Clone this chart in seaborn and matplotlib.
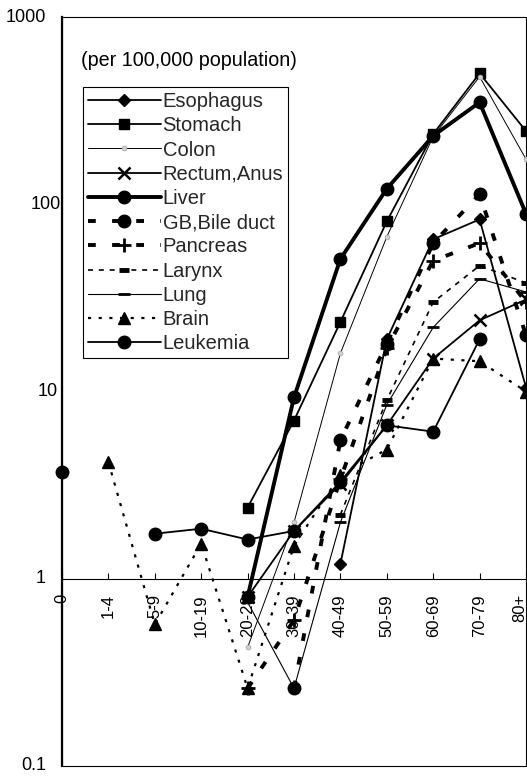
import numpy as np
import pandas as pd
import matplotlib
matplotlib.use("Agg")
import matplotlib.pyplot as plt
import seaborn as sns
from matplotlib.patches import Rectangle
import matplotlib.transforms as mtransforms

nan = np.nan

# ---- data (per 100,000 population) ----
categories = ['0', '1-4', '5-9', '10-19', '20-29', '30-39', '40-49',
              '50-59', '60-69', '70-79', '80+']
esophagus = [nan, nan, nan, nan, nan, nan, 1.2, 19, 65, 83, 10.5]
stomach = [nan, nan, nan, nan, 2.4, 7.0, 23.5, 81, 237, 500, 246]
colon = [nan, nan, nan, nan, 0.43, 2.0, 16, 67, 230, 480, 174]
rectum_anus = [nan, nan, nan, nan, 0.8, 1.8, 3.2, 6.6, 15, 24, 31]
liver = [nan, nan, nan, nan, 0.8, 9.3, 51, 121, 232, 350, 89]
gb_bile_duct = [nan, nan, nan, nan, nan, 0.26, 5.5, 18, 62, 113, 20]
pancreas = [nan, nan, nan, nan, 0.26, 0.6, 3.4, 17, 50, 62, 30]
larynx = [nan, nan, nan, nan, nan, nan, 2.2, 9, 30, 47, 38]
lung = [nan, nan, nan, nan, 0.75, 0.26, 2.0, 8.5, 22, 40, 34]
brain = [nan, 4.2, 0.57, 1.54, 0.26, 1.5, 3.6, 4.9, 15, 14.5, 10]
leukemia = [3.7, nan, 1.74, 1.85, 1.62, 1.8, 3.3, 6.6, 6.1, 19, nan]

series = [
    ("Esophagus", esophagus),
    ("Stomach", stomach),
    ("Colon", colon),
    ("Rectum,Anus", rectum_anus),
    ("Liver", liver),
    ("GB,Bile duct", gb_bile_duct),
    ("Pancreas", pancreas),
    ("Larynx", larynx),
    ("Lung", lung),
    ("Brain", brain),
    ("Leukemia", leukemia),
]

styles = {
    "Esophagus": dict(marker='D', markersize=6.5, linewidth=1.3, linestyle='-'),
    "Stomach": dict(marker='s', markersize=7.5, linewidth=1.3, linestyle='-'),
    "Colon": dict(marker='o', markersize=3.5, linewidth=0.7, linestyle='-',
                  markerfacecolor='#d0d0d0', markeredgecolor='#a0a0a0',
                  markeredgewidth=0.5),
    "Rectum,Anus": dict(marker='x', markersize=9, linewidth=1.3, linestyle='-',
                        markeredgewidth=1.8),
    "Liver": dict(marker='o', markersize=9, linewidth=2.8, linestyle='-'),
    "GB,Bile duct": dict(marker='o', markersize=9, linewidth=2.8,
                         linestyle=(0, (2.0, 4.2))),
    "Pancreas": dict(marker='+', markersize=10, linewidth=2.8,
                     linestyle=(0, (2.0, 4.2)), markeredgewidth=2.0),
    "Larynx": dict(marker='_', markersize=7, linewidth=1.2,
                   linestyle=(0, (3, 3.5)), markeredgewidth=3.5),
    "Lung": dict(marker='_', markersize=8, linewidth=0.8, linestyle='-',
                 markeredgewidth=2.0),
    "Brain": dict(marker='^', markersize=8, linewidth=1.6,
                  linestyle=(0, (1.4, 3.4))),
    "Leukemia": dict(marker='o', markersize=9, linewidth=1.3, linestyle='-'),
}

sns.set_theme(style="white")
plt.rcParams['font.family'] = ['Liberation Sans', 'DejaVu Sans']

W, H = 527, 776
fig = plt.figure(figsize=(W / 100, H / 100), dpi=100)
ax_left, ax_right, ax_top, ax_bottom = 62, 526, 17, 766
ax = fig.add_axes([ax_left / W, 1 - ax_bottom / H,
                   (ax_right - ax_left) / W, (ax_bottom - ax_top) / H])

x_idx = np.arange(len(categories))
for name, vals in series:
    vals = np.asarray(vals, dtype=float)
    st = dict(styles[name])
    st.setdefault('markeredgecolor', 'black')
    st.setdefault('markeredgewidth', 1.0)
    st.setdefault('markerfacecolor', 'black')
    valid = ~np.isnan(vals)
    runs, cur = [], []
    for i, ok in enumerate(valid):
        if ok:
            cur.append(i)
        elif cur:
            runs.append(cur)
            cur = []
    if cur:
        runs.append(cur)
    for k, run in enumerate(runs):
        df = pd.DataFrame({'x': x_idx[run], 'y': vals[run]})
        extra = {'label': name} if k == 0 else {}
        sns.lineplot(data=df, x='x', y='y', ax=ax, color='black',
                     legend=False, errorbar=None, sort=False,
                     clip_on=False, **st, **extra)

ax.set_yscale('log')
ax.set_ylim(0.1, 1000)
ax.set_xlim(0, 10)
ax.set_xlabel('')
ax.set_ylabel('')
ax.grid(False)

# x axis crossing at 1
ax.spines['bottom'].set_position(('data', 1))
ax.spines['bottom'].set_linewidth(0.8)
ax.spines['bottom'].set_color('black')
ax.spines['top'].set_visible(False)
ax.spines['right'].set_visible(False)
ax.spines['left'].set_linewidth(1.6)
ax.spines['left'].set_color('black')
ax.add_patch(Rectangle((0, 0), 1, 1, transform=ax.transAxes, fill=False,
                       edgecolor='black', linewidth=0.8, clip_on=False,
                       zorder=0.5))

ax.set_xticks(x_idx)
ax.set_xticklabels(categories, rotation=90, va='top', ha='center',
                   fontsize=12)
ax.tick_params(axis='x', which='both', direction='in', length=4, width=0.8,
               pad=11, colors='black', bottom=True)
ax.tick_params(axis='y', which='both', length=0, labelleft=False)
for lbl in ax.get_xticklabels():
    if lbl.get_text() == '80+':
        lbl.set_transform(lbl.get_transform() +
                          mtransforms.ScaledTranslation(-6 / 100, 0,
                                                        fig.dpi_scale_trans))

# y tick labels
ylab = [("1000", 1000, 46), ("100", 100, 61), ("10", 10, 58),
        ("1", 1, 46), ("0.1", 0.1, 46)]
trans = mtransforms.blended_transform_factory(fig.transFigure, ax.transData)
for txt, val, xr in ylab:
    ax.text(xr / W, val, txt, transform=trans, ha='right', va='center',
            fontsize=13, color='black', clip_on=False)

ax.text((81 - ax_left) / (ax_right - ax_left),
        1 - (60 - ax_top) / (ax_bottom - ax_top),
        "(per 100,000 population)", transform=ax.transAxes,
        ha='left', va='center', fontsize=14.2, color='black')

handles, labels = ax.get_legend_handles_labels()
leg = ax.legend(handles, labels, loc='upper left',
                bbox_to_anchor=((83 - ax_left) / (ax_right - ax_left),
                                1 - (87 - ax_top) / (ax_bottom - ax_top)),
                borderaxespad=0, frameon=True, fancybox=False,
                edgecolor='black', framealpha=1, fontsize=14.5,
                handlelength=3.6, handletextpad=0.1, labelspacing=0.26,
                borderpad=0.25)
leg.get_frame().set_linewidth(0.8)

fig.savefig("out.png", dpi=100)
